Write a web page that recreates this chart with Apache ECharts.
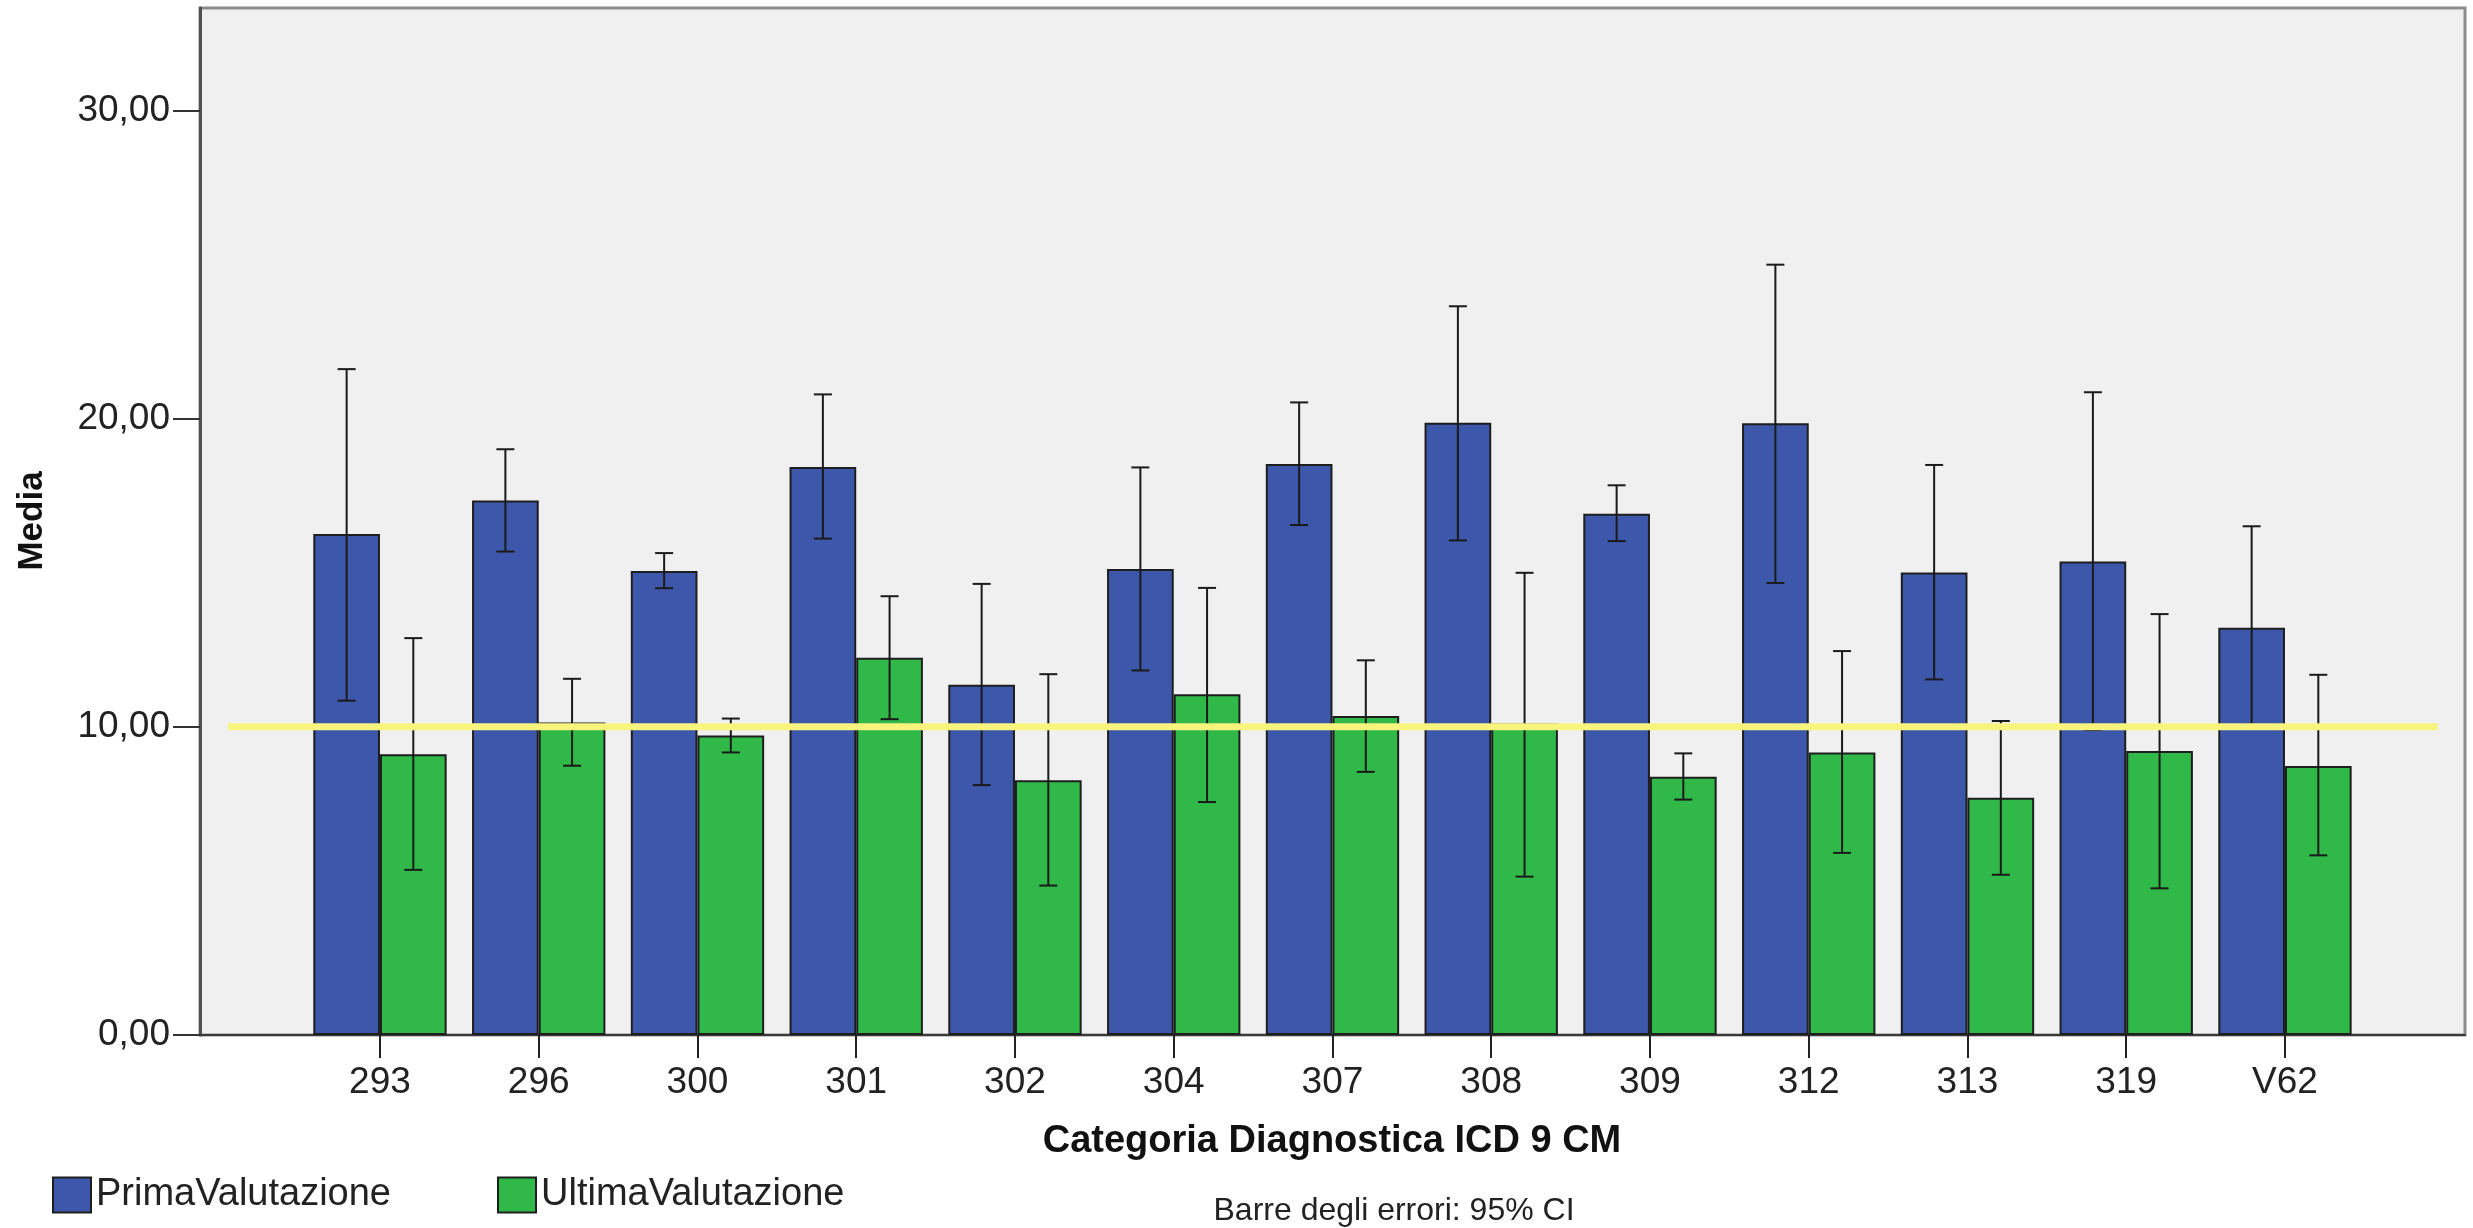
<!DOCTYPE html>
<html>
<head>
<meta charset="utf-8">
<script src="https://cdn.jsdelivr.net/npm/echarts@6/dist/echarts.min.js"></script>
<style>
  html, body { margin: 0; padding: 0; background: #ffffff; }
  #chart { width: 2473px; height: 1228px; }
</style>
</head>
<body>
<div id="chart"></div>
<script>
// ---------------- DATA ----------------
const categories = ['293', '296', '300', '301', '302', '304', '307', '308', '309', '312', '313', '319', 'V62'];
const primaMean  = [16.26, 17.35, 15.06, 18.43, 11.37, 15.12, 18.53, 19.87, 16.92, 19.85, 15.01, 15.37, 13.22];
const primaLow   = [10.85, 15.69, 14.50, 16.11,  8.11, 11.83, 16.55, 16.05, 16.03, 14.67, 11.54,  9.90,  9.96];
const primaHigh  = [21.61, 19.01, 15.64, 20.79, 14.64, 18.42, 20.53, 23.65, 17.84, 25.00, 18.50, 20.86, 16.51];
const ultimaMean = [ 9.11, 10.14,  9.72, 12.24,  8.27, 11.06, 10.35, 10.11,  8.38,  9.17,  7.70,  9.22,  8.73];
const ultimaLow  = [ 5.36,  8.74,  9.17, 10.25,  4.85,  7.56,  8.54,  5.14,  7.64,  5.91,  5.20,  4.76,  5.83];
const ultimaHigh = [12.88, 11.56, 10.27, 14.24, 11.71, 14.51, 12.16, 15.00,  9.14, 12.46, 10.19, 13.66, 11.69];
const yTickValues = [0, 10, 20, 30];
const yTickLabels = ['0,00', '10,00', '20,00', '30,00'];
const yMax = 33.33;
const referenceLevel = 10;
const seriesNames = ['PrimaValutazione', 'UltimaValutazione'];
const xTitle = 'Categoria Diagnostica ICD 9 CM';
const yTitle = 'Media';
const footnote = 'Barre degli errori: 95% CI';

// ---------------- STYLE / LAYOUT ----------------
const FONT = "'Liberation Sans', Arial, Helvetica, sans-serif";
const BLUE = '#3d58ab';
const GREEN = '#30b849';
const BAR_FRACTION = 0.42;       // each bar's share of the category band
const REF_START = 0.0124;        // reference line extent, as fraction of frame width
const REF_END = 0.988;

function errorBarSeries(name, low, high, side) {
  return {
    type: 'custom',
    name: name + ' CI',
    xAxisIndex: 1,
    yAxisIndex: 1,
    z: 5,
    silent: true,
    encode: { x: 0, y: [1, 2] },
    data: categories.map((c, i) => [i, low[i], high[i]]),
    renderItem: function (params, api) {
      const idx = api.value(0);
      const pLo = api.coord([idx, api.value(1)]);
      const pHi = api.coord([idx, api.value(2)]);
      const band = api.size([1, 0])[0];
      const x = pLo[0] + side * band * BAR_FRACTION / 2;
      const cap = 9;
      const st = { stroke: '#1a1a1a', lineWidth: 2 };
      return {
        type: 'group',
        children: [
          { type: 'line', shape: { x1: x, y1: pHi[1], x2: x, y2: pLo[1] }, style: st },
          { type: 'line', shape: { x1: x - cap, y1: pHi[1], x2: x + cap, y2: pHi[1] }, style: st },
          { type: 'line', shape: { x1: x - cap, y1: pLo[1], x2: x + cap, y2: pLo[1] }, style: st }
        ]
      };
    }
  };
}

const chart = echarts.init(document.getElementById('chart'), null, { renderer: 'canvas' });

const option = {
  animation: false,
  backgroundColor: '#ffffff',
  textStyle: { fontFamily: FONT },
  grid: [
    { left: 200, top: 8, width: 2265, height: 1027, show: true, backgroundColor: '#f0f0f0',
      borderColor: '#8c8c8c', borderWidth: 3, outerBoundsMode: 'none', containLabel: false },
    { left: 300.6, top: 8, width: 2063.75, height: 1027, outerBoundsMode: 'none', containLabel: false }
  ],
  xAxis: [
    { gridIndex: 0, type: 'value', min: 0, max: 1,
      axisLabel: { show: false }, axisTick: { show: false }, splitLine: { show: false },
      axisLine: { show: true, onZero: false, lineStyle: { color: '#3a3a3a', width: 2 } } },
    { gridIndex: 1, type: 'category', data: categories,
      axisLine: { show: true, onZero: false, lineStyle: { color: '#3a3a3a', width: 2 } },
      axisTick: { show: true, alignWithLabel: true, length: 23, lineStyle: { color: '#222', width: 2 } },
      axisLabel: { show: true, interval: 0, fontSize: 37, margin: 29, color: '#222', fontFamily: FONT },
      splitLine: { show: false } }
  ],
  yAxis: [
    { gridIndex: 0, type: 'value', min: 0, max: yMax,
      axisLine: { show: true, lineStyle: { color: '#505050', width: 3 } },
      axisTick: { show: true, length: 27, customValues: yTickValues, lineStyle: { color: '#333', width: 2 } },
      axisLabel: { show: true, fontSize: 37, margin: 30, color: '#222', fontFamily: FONT,
        customValues: yTickValues,
        formatter: function (v) {
          const k = yTickValues.indexOf(v);
          return k >= 0 ? yTickLabels[k] : '';
        } },
      splitLine: { show: false } },
    { gridIndex: 1, type: 'value', min: 0, max: yMax, show: false, splitLine: { show: false } }
  ],
  legend: {
    show: true,
    left: 52, top: 1176, padding: 0,
    orient: 'horizontal',
    itemWidth: 38, itemHeight: 35, itemGap: 106,
    icon: 'rect',
    data: seriesNames,
    textStyle: { fontSize: 38, color: '#222', fontFamily: FONT }
  },
  series: [
    { type: 'bar', name: seriesNames[0], xAxisIndex: 1, yAxisIndex: 1, data: primaMean,
      barWidth: (BAR_FRACTION * 100) + '%', barGap: '0%', z: 2,
      itemStyle: { color: BLUE, borderColor: '#1e1e1e', borderWidth: 2 } },
    { type: 'bar', name: seriesNames[1], xAxisIndex: 1, yAxisIndex: 1, data: ultimaMean,
      barWidth: (BAR_FRACTION * 100) + '%', barGap: '0%', z: 2,
      itemStyle: { color: GREEN, borderColor: '#1e1e1e', borderWidth: 2 } },
    errorBarSeries(seriesNames[0], primaLow, primaHigh, -1),
    errorBarSeries(seriesNames[1], ultimaLow, ultimaHigh, 1),
    { type: 'line', name: 'reference', xAxisIndex: 0, yAxisIndex: 0, z: 10, silent: true,
      symbol: 'none', data: [[REF_START, referenceLevel], [REF_END, referenceLevel]],
      lineStyle: { color: '#f8f47e', width: 7 } }
  ],
  graphic: [
    { type: 'text', x: 32, y: 521, rotation: Math.PI / 2,
      style: { text: yTitle, font: 'bold 35px ' + FONT, fill: '#111', align: 'center', verticalAlign: 'middle' } },
    { type: 'text', x: 1332, y: 1142,
      style: { text: xTitle, font: 'bold 38px ' + FONT, fill: '#111', align: 'center', verticalAlign: 'middle' } },
    { type: 'text', x: 1394, y: 1211,
      style: { text: footnote, font: '32px ' + FONT, fill: '#222', align: 'center', verticalAlign: 'middle' } }
  ]
};

chart.setOption(option);
</script>
</body>
</html>
